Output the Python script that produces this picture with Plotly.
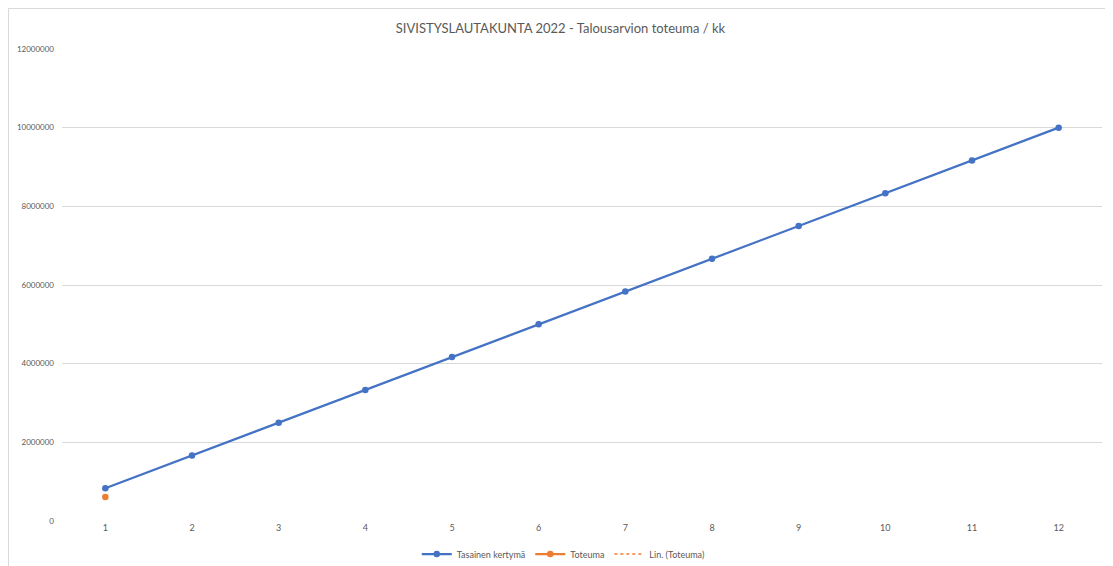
import plotly.graph_objects as go

months = ["1", "2", "3", "4", "5", "6", "7", "8", "9", "10", "11", "12"]
tasainen = [833333, 1666667, 2500000, 3333333, 4166667, 5000000,
            5833333, 6666667, 7500000, 8333333, 9166667, 10000000]
toteuma = [610000, None, None, None, None, None, None, None, None, None, None, None]
y_ticks = [0, 2000000, 4000000, 6000000, 8000000, 10000000, 12000000]

BLUE = "#4472C4"
ORANGE = "#ED7D31"
TXT = "#595959"
FONT = "Lato, Open Sans, sans-serif"

W, H = 1105, 558  # page body has 8px margin
ML, MR, MT, MB = 54, 11, 41, 45
PW, PH = W - ML - MR, H - MT - MB

fig = go.Figure()
fig.add_trace(go.Scatter(
    x=months, y=tasainen, mode="lines+markers", name="Tasainen kertymä",
    line=dict(color=BLUE, width=2.25), marker=dict(color=BLUE, size=6.5)))
fig.add_trace(go.Scatter(
    x=months, y=toteuma, mode="lines+markers", name="Toteuma",
    line=dict(color=ORANGE, width=2.25), marker=dict(color=ORANGE, size=6.5)))
fig.add_trace(go.Scatter(
    x=[None], y=[None], mode="lines", name="Lin. (Toteuma)",
    line=dict(color=ORANGE, width=1.5, dash="dot")))

fig.update_layout(
    width=W, height=H,
    paper_bgcolor="white", plot_bgcolor="white",
    margin=dict(l=ML, r=MR, t=MT, b=MB, autoexpand=False),
    title=dict(text="SIVISTYSLAUTAKUNTA 2022 - Talousarvion toteuma / kk",
               x=0.5, xanchor="center", y=1 - 20 / H, yanchor="middle",
               font=dict(family=FONT, size=13, color=TXT)),
    font=dict(family=FONT, size=9, color=TXT),
    showlegend=True,
    legend=dict(orientation="h", x=0.482, xanchor="center", y=-0.07, yanchor="middle",
                font=dict(family=FONT, size=9, color=TXT), itemwidth=30,
                bgcolor="rgba(0,0,0,0)"),
    xaxis=dict(type="category", range=[-0.5, 11.5], showgrid=False, zeroline=False,
               showline=False, ticks="", automargin=False,
               tickfont=dict(size=9, color=TXT)),
    yaxis=dict(range=[0, 12000000], tickvals=y_ticks, tickformat="d",
               showgrid=True, gridcolor="#D9D9D9", gridwidth=1, zeroline=False,
               showline=False, ticks="", ticklen=0, automargin=False,
               ticklabelstandoff=7,
               tickfont=dict(size=8, color=TXT)),
    shapes=[
        dict(type="line", xref="paper", yref="paper", x0=(0.5 - ML) / PW, x1=1.2,
             y0=(PH + MT - 0.5) / PH, y1=(PH + MT - 0.5) / PH,
             line=dict(color="#D9D9D9", width=1)),
        dict(type="line", xref="paper", yref="paper", x0=(0.5 - ML) / PW, x1=(0.5 - ML) / PW,
             y0=(PH + MT - 0.5) / PH, y1=-0.2, line=dict(color="#D9D9D9", width=1)),
    ],
)

fig.write_html("out.html")
